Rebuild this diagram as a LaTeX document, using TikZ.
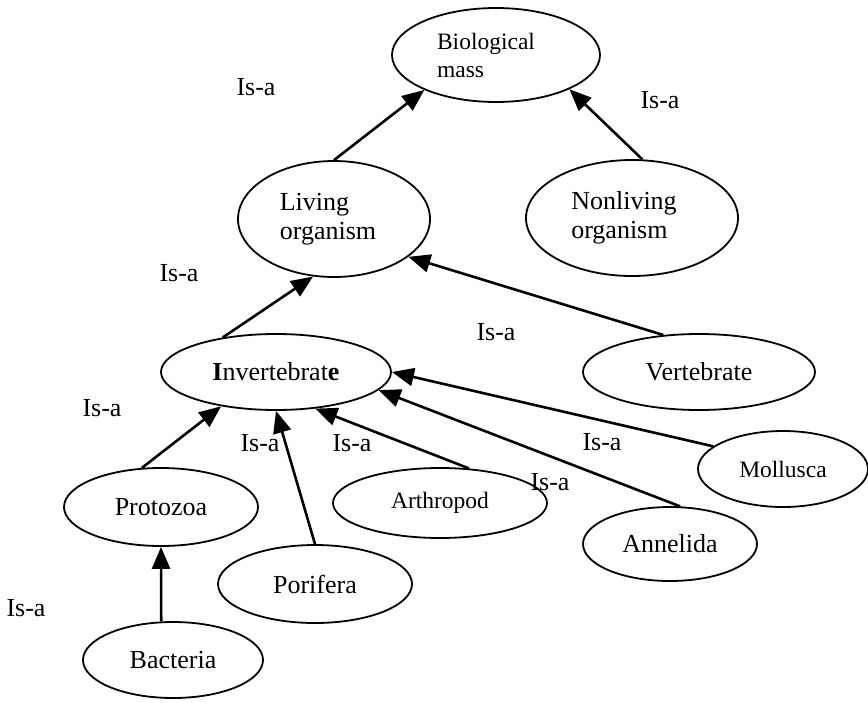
\documentclass[tikz,border=0pt]{standalone}
\usepackage{fontspec}
\setmainfont{Liberation Serif}
\usetikzlibrary{shapes.geometric,arrows.meta}
\tikzset{
  ell/.style={ellipse, draw, line width=1.8pt, inner sep=0pt, align=left,
    font=\fontsize{26}{29}\selectfont},
  small/.style={font=\fontsize{23.5}{28}\selectfont},
  isa/.style={arrows={-Triangle[length=22pt,width=18pt]}, line width=2.6pt},
  lbl/.style={inner sep=0pt, font=\fontsize{26}{29}\selectfont}
}
\begin{document}
\begin{tikzpicture}[x=1pt,y=-1pt]
\useasboundingbox (0,0) rectangle (868,702);
% ellipses
\node[ell, small, minimum width=208pt, minimum height=94pt] (bio) at (496,55) {Biological\hspace*{20pt}\\mass};
\node[ell, minimum width=192pt, minimum height=116pt] (liv) at (334,219) {Living\\organism\hspace*{12pt}};
\node[ell, minimum width=212pt, minimum height=116pt] (non) at (632,218) {Nonliving\hspace*{16pt}\\organism};
\node[ell, minimum width=230pt, minimum height=76pt] (inv) at (276,372) {\textbf{I}nvertebrat\textbf{e}};
\node[ell, minimum width=232pt, minimum height=76pt] (ver) at (699,372) {Vertebrate};
\node[ell, minimum width=194pt, minimum height=78pt] (pro) at (161,507) {Protozoa};
\node[ell, minimum width=180pt, minimum height=76pt] (bac) at (173,660) {Bacteria};
\node[ell, minimum width=194pt, minimum height=78pt] (por) at (315,584) {Porifera};
\node[ell, small, minimum width=214pt, minimum height=70pt] (art) at (440,503) {Arthropod};
\node[ell, minimum width=174pt, minimum height=74pt] (ann) at (670,544) {Annelida};
\node[ell, small, minimum width=170pt, minimum height=76pt] (mol) at (783,469) {Mollusca};
% connectors
\draw[isa] (liv.north) -- (bio.206);
\draw[isa] (non.80) -- (bio.335);
\draw[isa] (inv.147) -- (liv.250);
\draw[isa] (ver.134) -- (liv.333);
\draw[isa] (pro.116) -- (inv.212);
\draw[isa] (por.north) -- (inv.south);
\draw[isa] (art.50) -- (inv.317);
\draw[isa] (ann.75) -- (inv.350);
\draw[isa] (mol.162) -- (inv.east);
\draw[isa] (bac.107) -- (pro.south);
% labels
\node[lbl] (l1) at (256,87) {Is-a};
\node[lbl] (l2) at (660,100) {Is-a};
\node[lbl] (l3) at (179,273) {Is-a};
\node[lbl] (l4) at (496,332) {Is-a};
\node[lbl] (l5) at (102,408) {Is-a};
\node[lbl] (l6) at (260,443) {Is-a};
\node[lbl] (l7) at (352,443) {Is-a};
\node[lbl] (l8) at (602,442) {Is-a};
\node[lbl] (l9) at (550,482) {Is-a};
\node[lbl] (l10) at (26,608) {Is-a};
\end{tikzpicture}
\end{document}
